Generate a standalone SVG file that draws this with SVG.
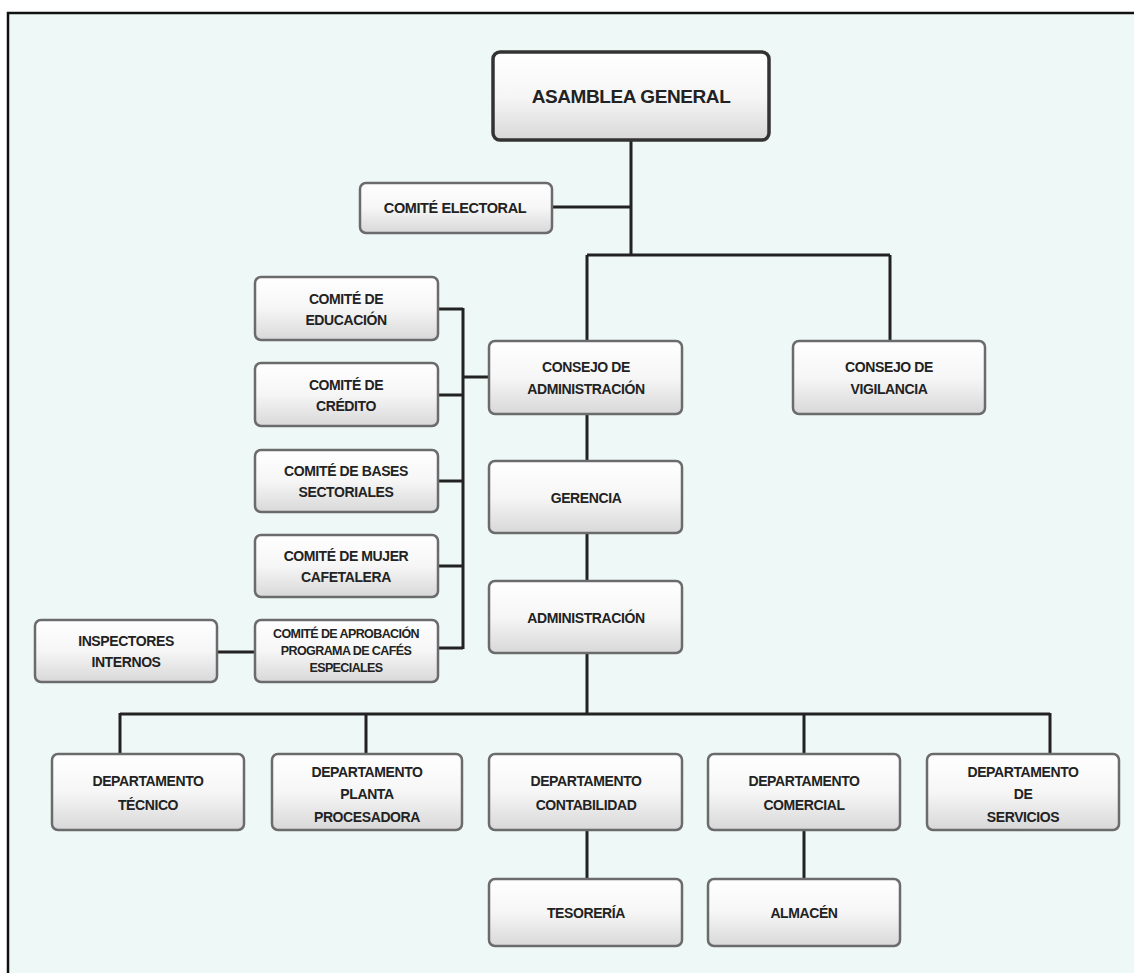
<svg xmlns="http://www.w3.org/2000/svg" width="1134" height="973" viewBox="0 0 1134 973">
<defs>
<linearGradient id="g" x1="0" y1="0" x2="0" y2="1">
<stop offset="0" stop-color="#ffffff"/>
<stop offset="0.5" stop-color="#f6f6f6"/>
<stop offset="1" stop-color="#d8d8d8"/>
</linearGradient>
<style>
.box{fill:url(#g);stroke:#6b6b6b;stroke-width:2.5}
.top{fill:url(#g);stroke:#333;stroke-width:3.5}
.t{font-family:"Liberation Sans",Arial,sans-serif;font-weight:bold;fill:#222;text-anchor:middle;font-size:14px;letter-spacing:-0.4px}
.s{font-size:12.5px;letter-spacing:-0.6px}
.c{fill:none;stroke:#222;stroke-width:3}
</style>
</defs>
<rect x="0" y="0" width="1134" height="973" fill="#ffffff"/>
<rect x="8" y="13" width="1140" height="980" fill="#eef8f7" stroke="#111" stroke-width="2.5"/>
<g id="connectors">
<path class="c" d="M631 140V255M552 207H631M587 255H890M587 255V341M890 255V341"/>
<path class="c" d="M587 414V461M587 533V581M587 653V714"/>
<path class="c" d="M438 309H463M438 395H463M438 481H463M438 566H463M438 648H463M463 308V649M463 377H490M217 652H255"/>
<path class="c" d="M120 714H1050M120 713V754M366 714V754M804 714V754M1050 713V754M587 830V879M804 830V879"/>
</g>
<g id="asamblea"><rect class="top" x="493" y="52" width="276" height="88" rx="7"/><text class="t" x="631" y="103" style="font-size:19px">ASAMBLEA GENERAL</text></g>
<g id="comite-electoral"><rect class="box" x="360" y="183" width="192" height="50" rx="6"/><text class="t" x="455" y="213" style="font-size:14.5px">COMITÉ ELECTORAL</text></g>
<g id="consejo-admin"><rect class="box" x="489" y="341" width="193" height="73" rx="6"/><text class="t" x="586" y="372">CONSEJO DE</text><text class="t" x="586" y="394">ADMINISTRACIÓN</text></g>
<g id="consejo-vigilancia"><rect class="box" x="793" y="341" width="192" height="73" rx="6"/><text class="t" x="889" y="372">CONSEJO DE</text><text class="t" x="889" y="394">VIGILANCIA</text></g>
<g id="gerencia"><rect class="box" x="489" y="461" width="193" height="72" rx="6"/><text class="t" x="586" y="503">GERENCIA</text></g>
<g id="administracion"><rect class="box" x="489" y="581" width="193" height="72" rx="6"/><text class="t" x="586" y="623">ADMINISTRACIÓN</text></g>
<g id="comite-educacion"><rect class="box" x="255" y="277" width="183" height="63" rx="6"/><text class="t" x="346" y="304">COMITÉ DE</text><text class="t" x="346" y="325">EDUCACIÓN</text></g>
<g id="comite-credito"><rect class="box" x="255" y="363" width="183" height="63" rx="6"/><text class="t" x="346" y="390">COMITÉ DE</text><text class="t" x="346" y="411">CRÉDITO</text></g>
<g id="comite-bases"><rect class="box" x="255" y="450" width="183" height="62" rx="6"/><text class="t" x="346" y="476">COMITÉ DE BASES</text><text class="t" x="346" y="497">SECTORIALES</text></g>
<g id="comite-mujer"><rect class="box" x="255" y="535" width="183" height="62" rx="6"/><text class="t" x="346" y="561">COMITÉ DE MUJER</text><text class="t" x="346" y="582">CAFETALERA</text></g>
<g id="comite-aprobacion"><rect class="box" x="255" y="620" width="183" height="62" rx="6"/><text class="t s" x="346" y="638">COMITÉ DE APROBACIÓN</text><text class="t s" x="346" y="655">PROGRAMA DE CAFÉS</text><text class="t s" x="346" y="672">ESPECIALES</text></g>
<g id="inspectores"><rect class="box" x="35" y="620" width="182" height="62" rx="6"/><text class="t" x="126" y="646">INSPECTORES</text><text class="t" x="126" y="667">INTERNOS</text></g>
<g id="dep-tecnico"><rect class="box" x="52" y="754" width="192" height="76" rx="6"/><text class="t" x="148" y="786">DEPARTAMENTO</text><text class="t" x="148" y="810">TÉCNICO</text></g>
<g id="dep-planta"><rect class="box" x="272" y="754" width="190" height="76" rx="6"/><text class="t" x="367" y="777">DEPARTAMENTO</text><text class="t" x="367" y="799">PLANTA</text><text class="t" x="367" y="822">PROCESADORA</text></g>
<g id="dep-contabilidad"><rect class="box" x="489" y="754" width="193" height="76" rx="6"/><text class="t" x="586" y="786">DEPARTAMENTO</text><text class="t" x="586" y="810">CONTABILIDAD</text></g>
<g id="dep-comercial"><rect class="box" x="708" y="754" width="192" height="76" rx="6"/><text class="t" x="804" y="786">DEPARTAMENTO</text><text class="t" x="804" y="810">COMERCIAL</text></g>
<g id="dep-servicios"><rect class="box" x="927" y="754" width="192" height="76" rx="6"/><text class="t" x="1023" y="777">DEPARTAMENTO</text><text class="t" x="1023" y="799">DE</text><text class="t" x="1023" y="822">SERVICIOS</text></g>
<g id="tesoreria"><rect class="box" x="489" y="879" width="193" height="67" rx="6"/><text class="t" x="586" y="918">TESORERÍA</text></g>
<g id="almacen"><rect class="box" x="708" y="879" width="192" height="67" rx="6"/><text class="t" x="804" y="918">ALMACÉN</text></g>
</svg>
